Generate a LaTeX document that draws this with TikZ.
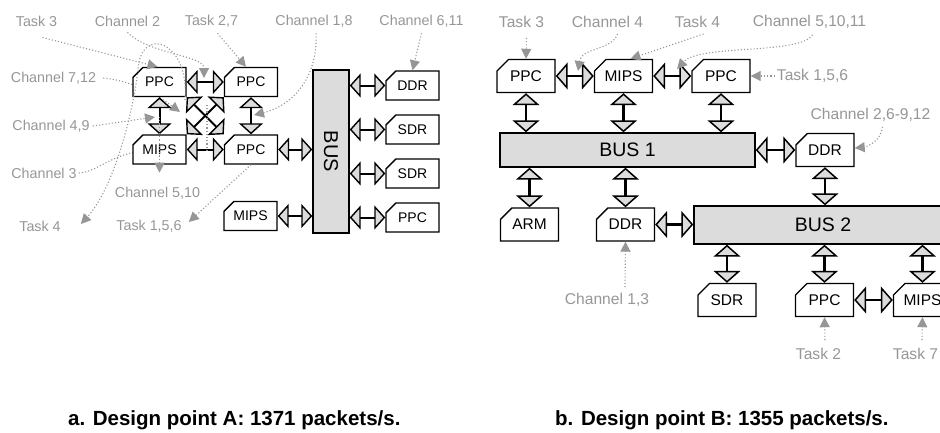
\documentclass[tikz,border=0pt]{standalone}
\usepackage{fontspec}
\setmainfont{Liberation Sans}
\usetikzlibrary{arrows.meta, calc, shapes.misc}

\definecolor{notegray}{RGB}{150,150,150}
\definecolor{busgray}{RGB}{220,220,220}

\tikzset{
  headA/.tip={Triangle[width=24pt, length=11pt, fill=busgray, line width=1.4pt]},
  headB/.tip={Triangle[width=27pt, length=12pt, fill=busgray, line width=1.5pt]},
  headN/.tip={Triangle[width=10pt, length=10pt, fill=notegray]},
}

\begin{document}
\begin{tikzpicture}[x=1pt, y=-1pt,
    cpu/.style={draw, fill=white, line width=1.4pt, chamfered rectangle,
      chamfered rectangle corners=north west, chamfered rectangle xsep=5pt,
      chamfered rectangle ysep=5pt, inner sep=0pt, minimum width=53pt,
      minimum height=29pt, font=\fontsize{14}{16}\selectfont},
    cpuB/.style={cpu, chamfered rectangle xsep=6pt, chamfered rectangle ysep=6pt,
      minimum width=58pt, minimum height=33pt, font=\fontsize{15.5}{18}\selectfont},
    bus/.style={draw, fill=busgray, line width=1.4pt, inner sep=0pt,
      font=\fontsize{19.5}{22}\selectfont},
    linkA/.style={line width=2pt, headA-headA},
    linkB/.style={line width=2.2pt, headB-headB},
    note/.style={draw=notegray, line width=1.1pt, dash pattern=on 1.1pt off 2.1pt, -headN},
    noteline/.style={note, -},
    labA/.style={text=notegray, inner sep=0pt, font=\fontsize{14.3}{16}\selectfont},
    labB/.style={labA, font=\fontsize{15.6}{18}\selectfont},
    capt/.style={anchor=base west, inner sep=0pt, font=\bfseries\fontsize{20.5}{24}\selectfont}
  ]
  \clip (0,0) rectangle (940,432);

  % free ends of the annotations
  \coordinate (tC2) at (204,78);
  \coordinate (tC18) at (254,115);
  \coordinate (tC712) at (180,112);
  \coordinate (tC49) at (155,117);
  \coordinate (tC510) at (159.5,117);
  \coordinate (tT4) at (185,100);
  \coordinate (tXa) at (207,105);
  \coordinate (tXb) at (207,152);
  \coordinate (tbC4) at (578,71);
  \coordinate (tbC5) at (677,69);

  % labels of design point A
  \node[labA] (nT3) at (36.5,21) {Task 3};
  \node[labA] (nC2) at (127.5,21) {Channel 2};
  \node[labA] (nT27) at (211.5,21) {Task 2,7};
  \node[labA] (nC18) at (314,21) {Channel 1,8};
  \node[labA] (nC611) at (421.5,21) {Channel 6,11};
  \node[labA] (nC712) at (53.5,78) {Channel 7,12};
  \node[labA] (nC49) at (51,126) {Channel 4,9};
  \node[labA] (nC3) at (44,173) {Channel 3};
  \node[labA] (nC510) at (157.5,193) {Channel 5,10};
  \node[labA] (nT4) at (40,226) {Task 4};
  \node[labA] (nT156) at (149,226) {Task 1,5,6};

  \draw[noteline] ([xshift=2pt]nC3.east) .. controls (100,172) and (112,150) .. (159.5,149.5);
  \draw[note] ([xshift=7pt]nC712.east) .. controls (135,81) and (160,97) .. (tC712);

  % design point A
  \node[cpu] (ppcA1) at (159.5,82) {PPC};
  \node[cpu] (ppcA2) at (251,82) {PPC};
  \node[cpu] (mipsA1) at (159.5,149.5) {MIPS};
  \node[cpu] (ppcA3) at (251,149.5) {PPC};
  \node[cpu] (mipsA2) at (250.5,216) {MIPS};
  \node[bus, minimum width=36pt, minimum height=163pt,
    label={[rotate=-90, font=\fontsize{20}{24}\selectfont]center:BUS}] (busA) at (331,151.5) {};
  \node[cpu] (ddrA) at (412.5,85.5) {DDR};
  \node[cpu] (sdrA1) at (412.5,129.5) {SDR};
  \node[cpu] (sdrA2) at (412.5,173.5) {SDR};
  \node[cpu] (ppcA4) at (412.5,217.5) {PPC};

  \draw[linkA] (ppcA1.east) -- (ppcA2.west);
  \draw[linkA] (mipsA1.east) -- (ppcA3.west);
  \draw[linkA] (ppcA1.south) -- (mipsA1.north);
  \draw[linkA] (ppcA2.south) -- (ppcA3.north);
  \draw[linkA] (ppcA1.south east) -- (ppcA3.west |- ppcA3.north);
  \draw[linkA] (ppcA2.west |- ppcA2.south) -- (mipsA1.north east);
  \draw[linkA] (ppcA3.east) -- (ppcA3.east -| busA.west);
  \draw[linkA] (mipsA2.east) -- (mipsA2.east -| busA.west);
  \foreach \n in {ddrA,sdrA1,sdrA2,ppcA4}
    \draw[linkA] (\n.west -| busA.east) -- (\n.west);

  \draw[note] ([shift={(6pt,-11pt)}]nT3.south) -- ([xshift=-2pt]ppcA1.north);
  \draw[note] ([yshift=-6pt]nC2.south) .. controls +(22,22) and +(0,-23) .. (tC2);
  \draw[note] ([shift={(6pt,-6pt)}]nT27.south) -- ([xshift=-5pt]ppcA2.north);
  \draw[note] ([shift={(2pt,-6pt)}]nC18.south) .. controls (318,75) and (295,105) .. (tC18);
  \draw[note] ([yshift=-6pt]nC611.south) -- (ddrA.north);
  \draw[note] ([xshift=3pt]nC49.east) -- (tC49);
  \draw[note] (tC510) -- ([shift={(2pt,14pt)}]nC510.north);
  \draw[note] (tT4) .. controls (190,40) and (140,25) .. (138,70)
    .. controls (132,120) and (112,190) .. ([shift={(20pt,2pt)}]nT4.east);
  \draw[note] (ppcA3.south) -- ([shift={(7pt,4pt)}]nT156.east);
  \draw[noteline] (tXa) -- (tXb);

  % design point B
  \node[cpuB] (ppcB1) at (526,76) {PPC};
  \node[cpuB] (mipsB1) at (623.5,76) {MIPS};
  \node[cpuB] (ppcB2) at (721,76) {PPC};
  \node[bus, minimum width=255pt, minimum height=34pt] (busB1) at (627.5,150) {BUS 1};
  \node[cpuB] (ddrB1) at (825,150) {DDR};
  \node[cpuB] (armB) at (529.5,224.5) {ARM};
  \node[cpuB] (ddrB2) at (625.5,224.5) {DDR};
  \node[bus, minimum width=258pt, minimum height=38pt] (busB2) at (823,225) {BUS 2};
  \node[cpuB] (sdrB) at (727,300) {SDR};
  \node[cpuB] (ppcB3) at (824.5,300) {PPC};
  \node[cpuB] (mipsB2) at (922.5,300) {MIPS};

  \draw[linkB] (ppcB1.east) -- (mipsB1.west);
  \draw[linkB] (mipsB1.east) -- (ppcB2.west);
  \foreach \n in {ppcB1,mipsB1,ppcB2}
    \draw[linkB] (\n.south) -- (\n.south |- busB1.north);
  \draw[linkB] (busB1.east |- ddrB1.west) -- (ddrB1.west);
  \foreach \n in {armB,ddrB2}
    \draw[linkB] (\n.north |- busB1.south) -- (\n.north);
  \draw[linkB] (ddrB2.east) -- (ddrB2.east -| busB2.west);
  \draw[linkB] (ddrB1.south) -- (ddrB1.south |- busB2.north);
  \foreach \n in {sdrB,ppcB3,mipsB2}
    \draw[linkB] (\n.north |- busB2.south) -- (\n.north);
  \draw[linkB] (ppcB3.east) -- (mipsB2.west);

  % labels of design point B
  \node[labB] (nbT3) at (521.5,22) {Task 3};
  \node[labB] (nbC4) at (607.5,22) {Channel 4};
  \node[labB] (nbT4) at (697.5,22) {Task 4};
  \node[labB] (nbC5) at (809.5,22) {Channel 5,10,11};
  \node[labB] (nbT156) at (812.5,76) {Task 1,5,6};
  \node[labB] (nbC26) at (870.5,115) {Channel 2,6-9,12};
  \node[labB] (nbC13) at (607,300) {Channel 1,3};
  \node[labB] (nbT2) at (818.5,354) {Task 2};
  \node[labB] (nbT7) at (915.5,354) {Task 7};

  \draw[note] ([shift={(5pt,-10pt)}]nbT3.south) -- (ppcB1.north);
  \draw[note] ([shift={(10pt,-6pt)}]nbC4.south) .. controls +(-6,17) and +(4,-24) .. (tbC4);
  \draw[note] ([shift={(6pt,-6pt)}]nbT4.south) -- ([xshift=7pt]mipsB1.north);
  \draw[note] ([shift={(3pt,-6pt)}]nbC5.south) .. controls +(-12,20) and +(23,-25) .. (tbC5);
  \draw[note] ([xshift=-2pt]nbT156.west) -- (ppcB2.east);
  \draw[note] ([shift={(12pt,-5pt)}]nbC26.south) .. controls +(-1,14) and +(12,-1) .. ([yshift=2pt]ddrB1.east);
  \draw[note] ([shift={(18pt,6pt)}]nbC13.north) -- (ddrB2.south);
  \draw[note] ([shift={(6.5pt,8pt)}]nbT2.north) -- (ppcB3.south);
  \draw[note] ([shift={(6.5pt,8pt)}]nbT7.north) -- (mipsB2.south);

  % captions
  \node[capt] (captA) at (68,425) {a. Design point A: 1371 packets/s.};
  \node[capt] (captB) at (555,425) {b. Design point B: 1355 packets/s.};
\end{tikzpicture}
\end{document}
